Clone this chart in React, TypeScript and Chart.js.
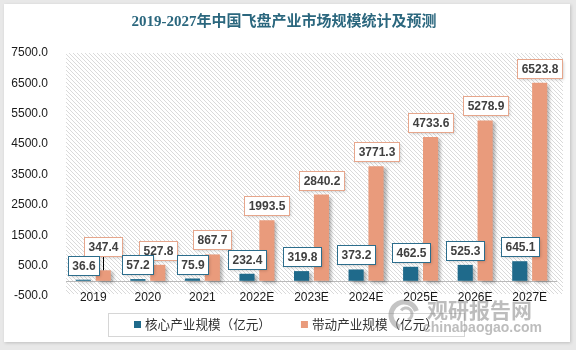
import React, { useEffect, useRef } from "react";
import { Chart, registerables } from "chart.js";

Chart.register(...registerables);

const titleText = "2019-2027年中国飞盘产业市场规模统计及预测";
const categories = ["2019", "2020", "2021", "2022E", "2023E", "2024E", "2025E", "2026E", "2027E"];
const coreValues = [36.6, 57.2, 75.9, 232.4, 319.8, 373.2, 462.5, 525.3, 645.1];
const drivenValues = [347.4, 527.8, 867.7, 1993.5, 2840.2, 3771.3, 4733.6, 5278.9, 6523.8];
const seriesNames = ["核心产业规模（亿元）", "带动产业规模（亿元）"];
const yMin = -500;
const yMax = 7500;
const yStep = 1000;
const watermarkMain = "观研报告网";
const watermarkSub = "chinabaogao.com";

const CORE_COLOR = "#1f6a8b";
const DRIVEN_COLOR = "#e99b7c";
const CORE_BORDER = "#2c6d8c";
const DRIVEN_BORDER = "#e6a68c";
const NUM_FONT = "'Liberation Sans', Arial, sans-serif";
const CJK_FONT = "'Noto Sans CJK SC', 'Liberation Sans', sans-serif";

export default function App() {
  const ref = useRef<HTMLCanvasElement>(null);

  useEffect(() => {
    document.body.style.margin = "0";
    const canvas = ref.current!;

    const pat = document.createElement("canvas");
    pat.width = 4;
    pat.height = 4;
    const pc = pat.getContext("2d")!;
    pc.fillStyle = "#dadada";
    for (let i = 0; i < 4; i++) pc.fillRect(i, i, 1, 1);

    const axisShiftPlugin = {
      id: "axisShift",
      afterLayout(chart: any) {
        const x = chart.scales.x;
        const b = chart.chartArea.bottom;
        x.top = b - 6;
        x.bottom = b + 16;
        x.height = 22;
      },
    };

    const hatchPlugin = {
      id: "hatch",
      beforeDraw(chart: any) {
        const { ctx, chartArea } = chart;
        const pattern = ctx.createPattern(pat, "repeat");
        ctx.save();
        ctx.fillStyle = pattern;
        ctx.fillRect(chartArea.left, chartArea.top, chartArea.right - chartArea.left + 6, chartArea.bottom - chartArea.top - 2);
        ctx.restore();
      },
    };

    const shadowPlugin = {
      id: "barShadow",
      beforeDatasetsDraw(chart: any) {
        const { ctx, chartArea, scales } = chart;
        const y0 = Math.round(scales.y.getPixelForValue(0)) + 0.5;
        ctx.save();
        ctx.strokeStyle = "#b9b9b9";
        ctx.lineWidth = 1;
        ctx.beginPath();
        ctx.moveTo(chartArea.left, y0);
        ctx.lineTo(chartArea.right, y0);
        ctx.stroke();
        ctx.restore();
        ctx.save();
        ctx.shadowColor = "rgba(0,0,0,0.28)";
        ctx.shadowBlur = 3;
        ctx.shadowOffsetX = 3;
        ctx.shadowOffsetY = 2;
      },
      afterDatasetsDraw(chart: any) {
        chart.ctx.restore();
      },
    };

    const labelPlugin = {
      id: "barLabels",
      afterDatasetsDraw(chart: any) {
        const ctx = chart.ctx;
        const m0 = chart.getDatasetMeta(0);
        const m1 = chart.getDatasetMeta(1);
        ctx.save();
        ctx.font = `bold 12px ${NUM_FONT}`;
        ctx.textAlign = "center";
        ctx.textBaseline = "middle";
        const mk = (el: any, v: number) => {
          const t = v.toFixed(1);
          const w = Math.round(ctx.measureText(t).width + 8);
          const h = 19;
          const bottom = Math.round(el.y - 5);
          return { t, x: Math.round(el.x - w / 2) + 0.5, y: bottom - h + 0.5, w, h, cx: el.x };
        };
        const drawBox = (b: any, border: string) => {
          ctx.save();
          ctx.shadowColor = "rgba(0,0,0,0.22)";
          ctx.shadowBlur = 3;
          ctx.shadowOffsetX = 1;
          ctx.shadowOffsetY = 1;
          ctx.fillStyle = "#ffffff";
          ctx.fillRect(b.x, b.y, b.w, b.h);
          ctx.restore();
          ctx.strokeStyle = border;
          ctx.lineWidth = 1;
          ctx.strokeRect(b.x, b.y, b.w, b.h);
          ctx.fillStyle = "#404040";
          ctx.fillText(b.t, b.x + b.w / 2, b.y + b.h / 2 + 0.5);
        };
        categories.forEach((_, i) => {
          const e0 = m0.data[i];
          const e1 = m1.data[i];
          const b0 = mk(e0, coreValues[i]);
          const b1 = mk(e1, drivenValues[i]);
          const xOverlap = b1.x < b0.x + b0.w && b0.x < b1.x + b1.w;
          const yOverlap = b1.y + b1.h - b0.y;
          if (xOverlap && yOverlap > 6) {
            b1.y = b0.y - b1.h;
            ctx.strokeStyle = "#000000";
            ctx.lineWidth = 1;
            ctx.beginPath();
            const lx = Math.round(e1.x) + 0.5;
            ctx.moveTo(lx, b1.y + b1.h);
            ctx.lineTo(lx, e1.y);
            ctx.stroke();
          }
          drawBox(b1, DRIVEN_BORDER);
          drawBox(b0, CORE_BORDER);
        });
        ctx.restore();
      },
    };

    const legendPlugin = {
      id: "customLegend",
      afterDraw(chart: any) {
        const ctx = chart.ctx;
        const ds = chart.data.datasets;
        ctx.save();
        ctx.font = `12.6px ${CJK_FONT}`;
        ctx.textBaseline = "middle";
        ctx.textAlign = "left";
        const sq = 7;
        const gapSq = 4;
        const gapItems = 30;
        const widths = ds.map((d: any) => sq + gapSq + ctx.measureText(d.label).width);
        const total = widths.reduce((a: number, b: number) => a + b, 0) + gapItems * (ds.length - 1);
        const cx = 286;
        const cy = 324.5;
        let x = Math.round(cx - total / 2);
        const pad = 26;
        ctx.strokeStyle = "#d6d6d6";
        ctx.lineWidth = 1;
        ctx.strokeRect(x - pad + 0.5, 313.5, Math.round(total + 2 * pad), 23);
        ds.forEach((d: any, i: number) => {
          ctx.fillStyle = d.backgroundColor;
          ctx.fillRect(x, Math.round(cy - sq / 2), sq, sq);
          ctx.fillStyle = "#333333";
          ctx.fillText(d.label, x + sq + gapSq, cy);
          x += widths[i] + gapItems;
        });
        ctx.restore();
      },
    };

    const watermarkPlugin = {
      id: "watermark",
      afterDraw(chart: any) {
        const ctx = chart.ctx;
        ctx.save();
        ctx.globalAlpha = 0.5;
        ctx.strokeStyle = "#8a8a8a";
        ctx.lineWidth = 5;
        ctx.beginPath();
        ctx.arc(404, 315, 13, Math.PI * 0.6, Math.PI * 1.9);
        ctx.stroke();
        ctx.lineWidth = 3;
        ctx.beginPath();
        ctx.arc(406, 314, 6, Math.PI * 1.2, Math.PI * 2.4);
        ctx.stroke();
        ctx.fillStyle = "#7c7c7c";
        ctx.textBaseline = "middle";
        ctx.textAlign = "left";
        ctx.font = `bold 21px ${CJK_FONT}`;
        ctx.fillText(watermarkMain, 427, 310);
        ctx.font = `bold 14px ${NUM_FONT}`;
        ctx.fillText(watermarkSub, 423, 328);
        ctx.restore();
      },
    };

    const chart = new Chart(canvas, {
      type: "bar",
      data: {
        labels: categories,
        datasets: [
          { label: seriesNames[0], data: coreValues, backgroundColor: CORE_COLOR, categoryPercentage: 0.73, barPercentage: 0.76 },
          { label: seriesNames[1], data: drivenValues, backgroundColor: DRIVEN_COLOR, categoryPercentage: 0.73, barPercentage: 0.76 },
        ],
      },
      options: {
        responsive: false,
        animation: false,
        layout: { padding: { left: 11, right: 19, top: 0, bottom: 54 } },
        plugins: {
          legend: { display: false },
          tooltip: { enabled: false },
          title: {
            display: true,
            text: titleText,
            color: "#2b677e",
            font: { size: 15, weight: "bold", family: "'Liberation Serif', 'Noto Sans CJK SC', serif", lineHeight: 1.2 },
            padding: { top: 13, bottom: 22 },
          },
        },
        scales: {
          x: {
            grid: { display: false, drawTicks: false },
            border: { display: false },
            afterFit: (scale: any) => {
              scale.height = 0;
            },
            ticks: { color: "#1a1a1a", font: { size: 12, family: NUM_FONT }, padding: 0, maxRotation: 0, autoSkip: false },
          },
          y: {
            min: yMin,
            max: yMax,
            grid: { display: false, drawTicks: false },
            border: { display: false },
            afterFit: (scale: any) => {
              scale.width = 55;
            },
            ticks: {
              stepSize: yStep,
              padding: 18,
              color: "#1a1a1a",
              font: { size: 12, family: NUM_FONT },
              callback: (v: any) => Number(v).toFixed(1),
            },
          },
        },
      },
      plugins: [axisShiftPlugin, hatchPlugin, shadowPlugin, labelPlugin, legendPlugin, watermarkPlugin],
    });

    return () => chart.destroy();
  }, []);

  return (
    <div style={{ position: "relative", width: 576, height: 350, background: "#e8e8e8", overflow: "hidden" }}>
      <div
        style={{
          position: "absolute",
          left: 4,
          top: 4,
          width: 566,
          height: 338,
          background: "#ffffff",
          boxShadow: "1px 1px 3px rgba(0,0,0,0.18)",
        }}
      />
      <canvas ref={ref} width={576} height={350} style={{ position: "absolute", left: 0, top: 0 }} />
    </div>
  );
}
